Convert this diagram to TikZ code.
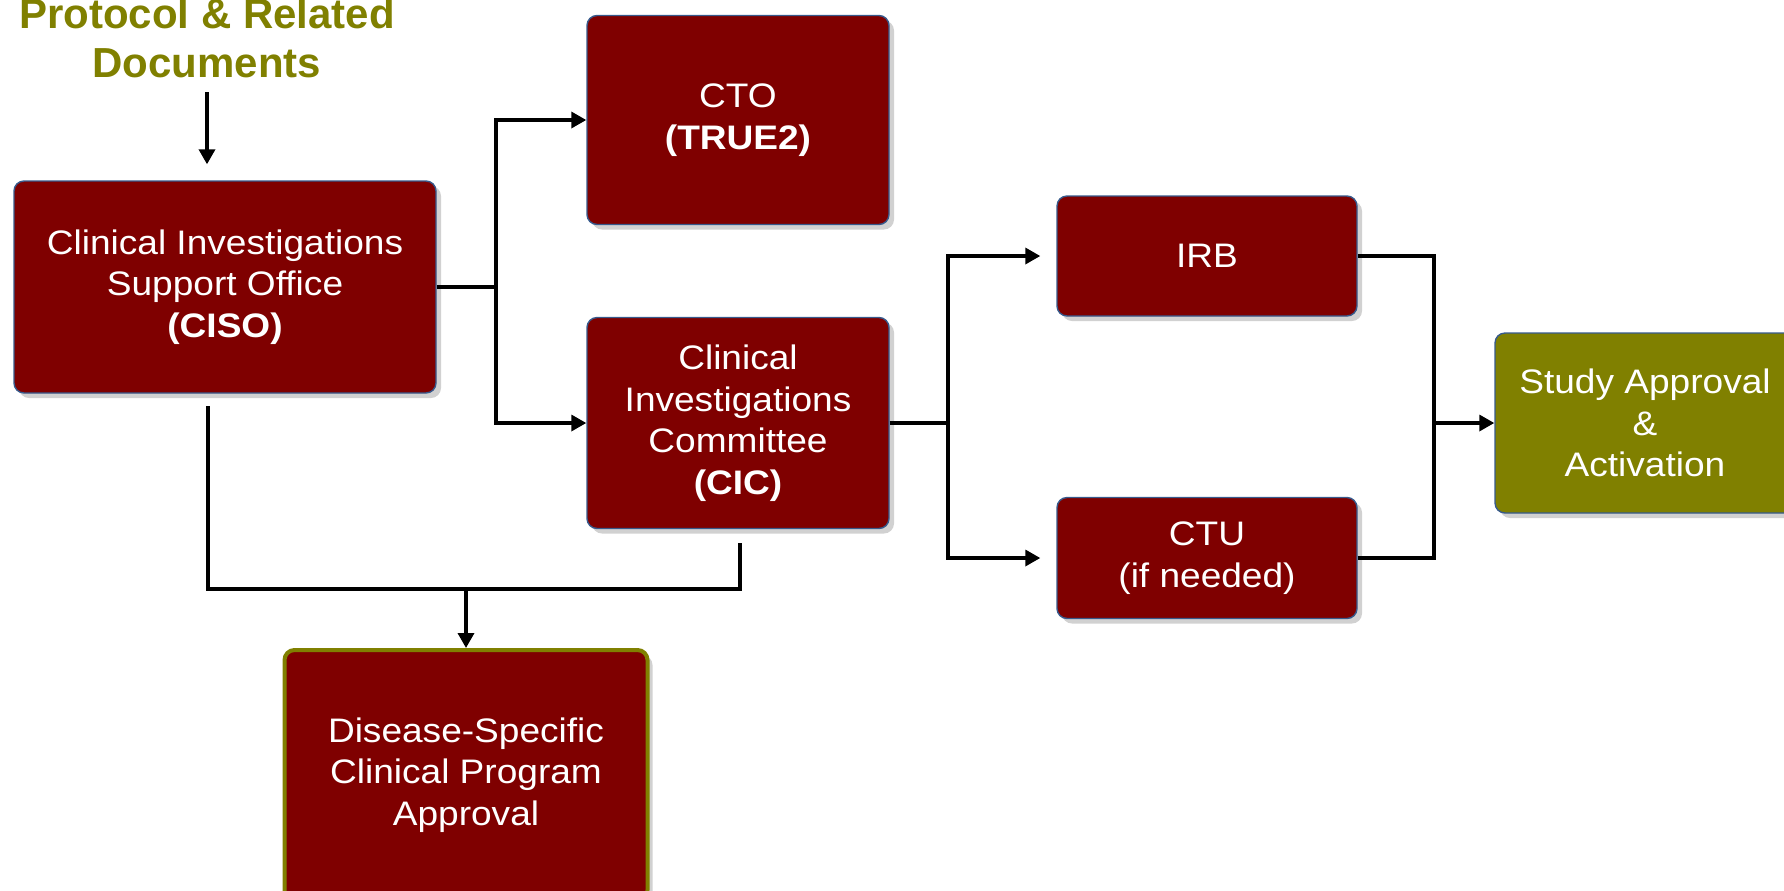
\documentclass[tikz,border=0pt]{standalone}
\usepackage{fontspec}
\setmainfont{Liberation Sans}
\newfontfamily\boxfont{Liberation Sans}[FakeStretch=1.09]
\usetikzlibrary{arrows.meta,shadows}
\definecolor{maroonfill}{HTML}{7F0000}
\definecolor{olivefill}{HTML}{808000}
\definecolor{boxedge}{RGB}{55,90,140}
\tikzset{
  box/.style={draw=boxedge, line width=0.7pt, fill=maroonfill, rounded corners=5pt,
    text=white, align=center, inner sep=0pt,
    font=\boxfont\fontsize{17}{20.75}\selectfont,
    drop shadow={shadow xshift=2.5pt, shadow yshift=-2.5pt, opacity=0.18, fill=black}},
  conn/.style={line width=1.7pt, draw=black},
  arr/.style={conn, -{Triangle[length=7.5pt,width=8pt]}},
  titletext/.style={text=olivefill, align=center, inner sep=0pt,
    font=\bfseries\fontsize{21}{24.5}\selectfont}
}
\begin{document}
\begin{tikzpicture}[x=0.5pt,y=-0.5pt]
\useasboundingbox (0,0) rectangle (1784,890);
\node[titletext] (title) at (207,38) {Protocol \& Related\\Documents};
\node[box, minimum width=211pt, minimum height=106pt] (ciso) at (225,287)
  {Clinical Investigations\\Support Office\\\textbf{(CISO)}};
\node[box, minimum width=151pt, minimum height=104.5pt] (cto) at (738,120)
  {CTO\\\textbf{(TRUE2)}};
\node[box, minimum width=151pt, minimum height=105.5pt] (cic) at (738,423)
  {Clinical\\Investigations\\Committee\\\textbf{(CIC)}};
\node[box, minimum width=150pt, minimum height=60pt] (irb) at (1207,256) {IRB};
\node[box, minimum width=150pt, minimum height=60.5pt] (ctu) at (1207,558)
  {CTU\\(if needed)};
\node[box, fill=olivefill, minimum width=150pt, minimum height=90pt] (study) at (1645,423)
  {Study Approval\\\&\\Activation};
\node[box, draw=olivefill, line width=2pt, minimum width=181.5pt, minimum height=125pt] (dis) at (466,775)
  {Disease-Specific\\Clinical Program\\Approval};

\draw[arr] ([yshift=-7pt]title.south) -- ([yshift=8pt]title.south |- ciso.north);

\coordinate (b1) at (496,287);
\draw[conn] (ciso.east) -- (b1);
\draw[arr] (b1) |- (cto.west);
\draw[arr] (b1) |- (cic.west);

\coordinate (c1) at (208,406);
\coordinate (c2) at (740,543);
\coordinate (j) at (466,589);
\draw[conn] (c1) |- (j) -| (c2);
\draw[arr] (j) -- (dis.north);

\coordinate (b2) at (948,423);
\draw[conn] (cic.east) -- (b2);
\draw[arr, shorten >=8pt] (b2) |- (irb.west);
\draw[arr, shorten >=8pt] (b2) |- (ctu.west);

\coordinate (b3) at (1434,423);
\draw[conn] (irb.east) -| (b3);
\draw[conn] (ctu.east) -| (b3);
\draw[arr] (b3) -- (study.west);
\end{tikzpicture}
\end{document}
